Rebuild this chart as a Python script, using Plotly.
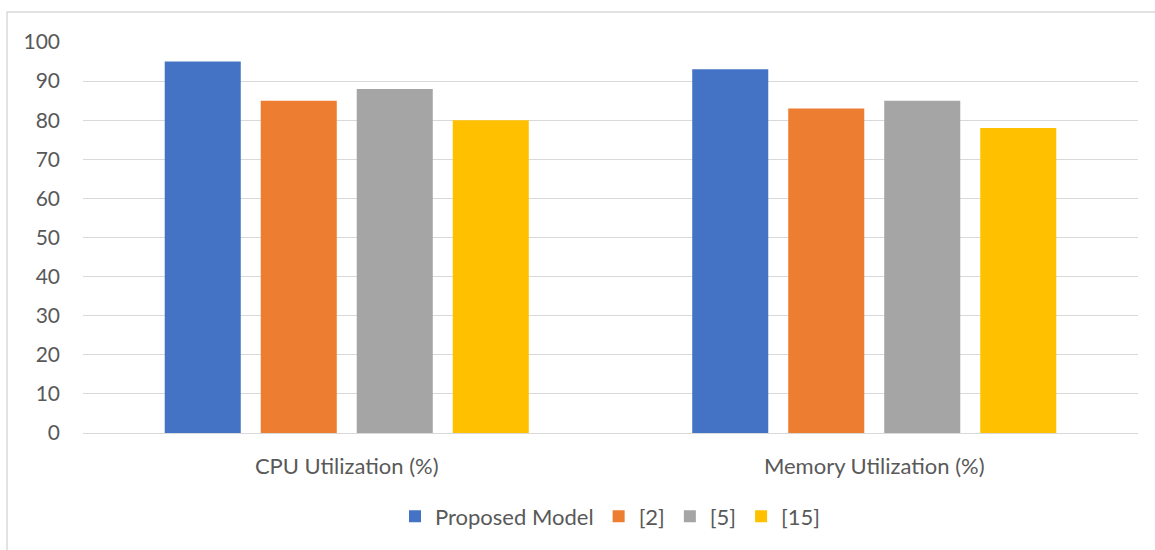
import plotly.graph_objects as go

categories = ["CPU Utilization (%)", "Memory Utilization (%)"]
series_names = ["Proposed Model", "[2]", "[5]", "[15]"]
proposed_model = [95, 93]
ref_2 = [85, 83]
ref_5 = [88, 85]
ref_15 = [80, 78]
colors = ["#4472C4", "#ED7D31", "#A5A5A5", "#FFC000"]

fig = go.Figure()
for name, vals, col in zip(series_names, [proposed_model, ref_2, ref_5, ref_15], colors):
    fig.add_trace(go.Bar(x=categories, y=vals, name=name, marker=dict(color=col, line=dict(width=0))))

font_family = "Lato, 'Open Sans', sans-serif"
fig.update_layout(
    width=1155, height=550,
    margin=dict(l=83, r=17, t=42, b=117, autoexpand=False),
    paper_bgcolor="white", plot_bgcolor="white",
    barmode="group", bargap=0.272, bargroupgap=0.208,
    font=dict(family=font_family, color="#595959", size=21),
    showlegend=True,
    legend=dict(orientation="h", x=0.5, xanchor="center", y=-0.16, yanchor="top",
                font=dict(size=22, color="#595959"), itemwidth=30, traceorder="normal"),
    xaxis=dict(showgrid=False, showline=True, linecolor="#d9d9d9", linewidth=1, automargin=False,
               ticks="", tickfont=dict(size=22, color="#595959"), ticklabelstandoff=14),
    yaxis=dict(range=[0, 100], dtick=10, showgrid=True, gridcolor="#d9d9d9", gridwidth=1,
               zeroline=False, showline=False, ticks="", automargin=False,
               tickfont=dict(size=21, color="#595959"), ticklabelstandoff=22),
    shapes=[dict(type="rect", xref="paper", yref="paper",
                 x0=-0.072, x1=1.05, y0=-0.4, y1=1.0767,
                 line=dict(color="#d9d9d9", width=1.5), fillcolor="rgba(0,0,0,0)", layer="below")],
)
fig.write_html("out.html")
